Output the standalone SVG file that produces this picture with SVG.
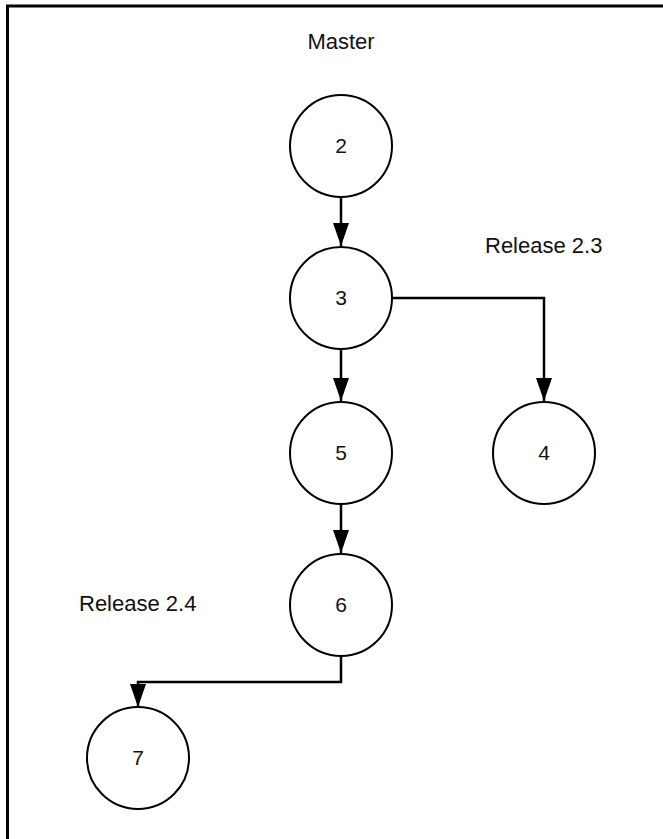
<svg xmlns="http://www.w3.org/2000/svg" width="663" height="839" viewBox="0 0 663 839">
<style>
.node circle{fill:#fff;stroke:#000;stroke-width:2}
.num{font-family:"Liberation Sans",Arial,sans-serif;font-size:21px;fill:#111;text-anchor:middle}
.lbl{font-family:"Liberation Sans",Arial,sans-serif;font-size:22px;fill:#111}
.conn path{fill:none;stroke:#000;stroke-width:2.5;marker-end:url(#ah)}
</style>
<defs>
<marker id="ah" markerUnits="userSpaceOnUse" markerWidth="24" markerHeight="18" refX="23" refY="9" orient="auto">
<path d="M0,1 L23,9 L0,17 z" fill="#000"/>
</marker>
</defs>
<rect width="663" height="839" fill="#fff"/>
<path d="M7.5,839 V6 H663" fill="none" stroke="#000" stroke-width="3"/>
<text class="lbl" x="341" y="49" text-anchor="middle">Master</text>
<text class="lbl" x="485" y="253">Release 2.3</text>
<text class="lbl" x="79" y="611">Release 2.4</text>
<g class="conn">
<path d="M341,197 V246"/>
<path d="M341,349 V401"/>
<path d="M392,298 H544 V401"/>
<path d="M341,504 V553"/>
<path d="M341,656 V682 H138 V707"/>
</g>
<g id="n2" class="node"><circle cx="341" cy="146" r="51"/><text class="num" x="341" y="152.5">2</text></g>
<g id="n3" class="node"><circle cx="341" cy="298" r="51"/><text class="num" x="341" y="304.5">3</text></g>
<g id="n5" class="node"><circle cx="341" cy="453" r="51"/><text class="num" x="341" y="459.5">5</text></g>
<g id="n4" class="node"><circle cx="544" cy="453" r="51"/><text class="num" x="544" y="459.5">4</text></g>
<g id="n6" class="node"><circle cx="341" cy="605" r="51"/><text class="num" x="341" y="611.5">6</text></g>
<g id="n7" class="node"><circle cx="138" cy="758" r="51"/><text class="num" x="138" y="764.5">7</text></g>
</svg>
